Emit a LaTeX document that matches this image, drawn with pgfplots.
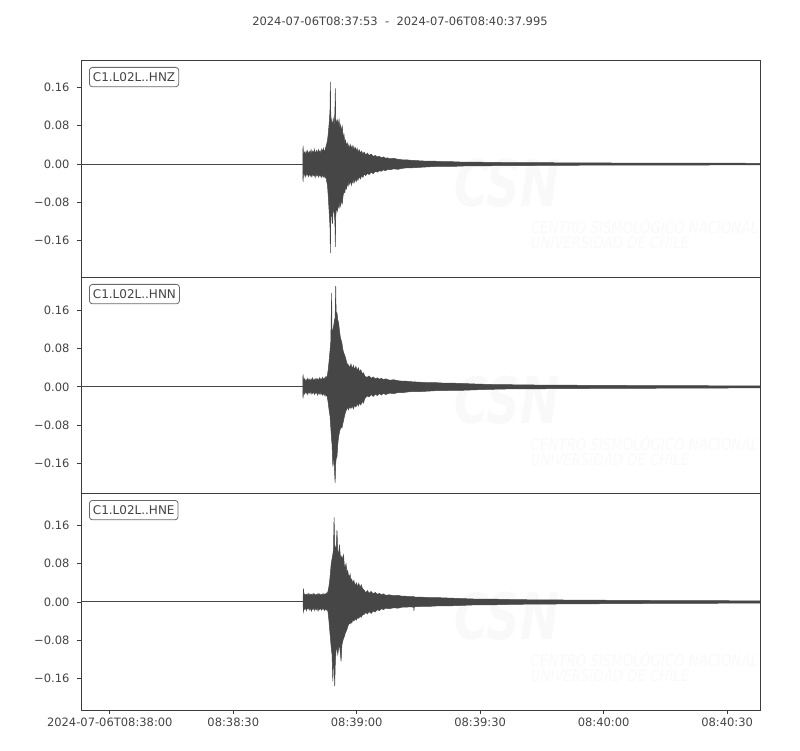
\documentclass[border=0pt]{standalone}
\usepackage{fontspec}
\setmainfont{DejaVu Sans}
\usepackage{pgfplots}
\usepackage{pgfplotstable}
\pgfplotsset{compat=1.18}
\usepgfplotslibrary{fillbetween}
\tikzset{fill between/on layer=main}
\definecolor{trace}{RGB}{70,70,70}
\definecolor{ink}{RGB}{68,68,68}
\definecolor{frame}{RGB}{60,60,60}
\definecolor{boxc}{RGB}{105,105,105}
\definecolor{wm}{RGB}{249,249,249}

% envelopes of the three traces, t in s after 08:37:53
\pgfplotstableread{
t up lo
53.90 0 0
53.95 0.038 -0.037
54.10 0.018 -0.016
54.30 0.025 -0.022
54.50 0.019 -0.027
54.70 0.027 -0.018
54.90 0.021 -0.024
55.10 0.028 -0.020
55.30 0.020 -0.026
55.50 0.026 -0.019
55.70 0.022 -0.025
55.90 0.030 -0.021
56.10 0.021 -0.027
56.30 0.027 -0.019
56.50 0.023 -0.024
56.70 0.031 -0.022
56.90 0.022 -0.028
57.10 0.026 -0.020
57.30 0.029 -0.025
57.50 0.021 -0.021
57.70 0.030 -0.027
57.90 0.024 -0.020
58.10 0.028 -0.026
58.30 0.022 -0.022
58.50 0.031 -0.028
58.70 0.025 -0.021
58.90 0.033 -0.027
59.10 0.024 -0.023
59.30 0.030 -0.029
59.50 0.036 -0.025
59.70 0.042 -0.036
59.90 0.050 -0.045
60.10 0.065 -0.070
60.30 0.085 -0.100
60.50 0.110 -0.130
60.60 0.172 -0.186
60.70 0.100 -0.115
60.90 0.090 -0.095
61.10 0.082 -0.125
61.30 0.095 -0.090
61.50 0.078 -0.100
61.70 0.110 -0.120
61.80 0.158 -0.173
61.90 0.095 -0.110
62.10 0.085 -0.090
62.30 0.092 -0.098
62.50 0.080 -0.085
62.70 0.093 -0.092
62.90 0.075 -0.080
63.10 0.082 -0.088
63.30 0.068 -0.075
63.50 0.078 -0.082
63.70 0.055 -0.065
63.90 0.062 -0.058
64.10 0.045 -0.060
64.30 0.050 -0.048
64.50 0.038 -0.052
64.70 0.044 -0.040
64.90 0.034 -0.046
65.10 0.041 -0.036
65.30 0.030 -0.042
65.50 0.040 -0.034
65.70 0.032 -0.044
65.90 0.038 -0.033
66.10 0.029 -0.040
66.30 0.037 -0.031
66.50 0.028 -0.038
66.70 0.034 -0.030
66.90 0.026 -0.036
67.10 0.033 -0.028
67.30 0.025 -0.034
67.60 0.030 -0.026
67.90 0.023 -0.031
68.20 0.027 -0.024
68.50 0.021 -0.028
68.80 0.025 -0.021
69.20 0.019 -0.024
69.60 0.023 -0.019
70.00 0.018 -0.022
70.50 0.021 -0.017
71.00 0.016 -0.020
71.50 0.018 -0.015
72.00 0.015 -0.017
72.50 0.016 -0.014
73.00 0.013 -0.015
73.50 0.015 -0.012
74.00 0.012 -0.014
74.50 0.013 -0.011
75.00 0.011 -0.012
76.00 0.012 -0.010
77.00 0.010 -0.011
78.00 0.009 -0.009
79.00 0.009 -0.008
80.00 0.008 -0.008
82.00 0.007 -0.007
84.00 0.006 -0.006
86.00 0.006 -0.005
88.00 0.005 -0.005
90.00 0.005 -0.005
93.00 0.004 -0.004
96.00 0.004 -0.004
100.0 0.0035 -0.0035
105.0 0.003 -0.003
110.0 0.003 -0.003
120.0 0.0025 -0.0025
130.0 0.0022 -0.0022
140.0 0.002 -0.002
150.0 0.002 -0.002
160.0 0.0018 -0.0018
164.995 0.0015 -0.0015
}\hnz

\pgfplotstableread{
t up lo
53.90 0 0
53.95 0.026 -0.024
54.10 0.012 -0.009
54.30 0.017 -0.015
54.50 0.011 -0.008
54.70 0.016 -0.014
54.90 0.012 -0.010
55.10 0.018 -0.016
55.30 0.013 -0.009
55.50 0.016 -0.013
55.70 0.011 -0.008
55.90 0.017 -0.015
56.10 0.013 -0.010
56.30 0.019 -0.014
56.50 0.012 -0.009
56.70 0.016 -0.016
56.90 0.013 -0.011
57.10 0.018 -0.014
57.30 0.014 -0.010
57.50 0.017 -0.017
57.70 0.012 -0.011
57.90 0.019 -0.015
58.10 0.014 -0.010
58.30 0.018 -0.016
58.50 0.013 -0.012
58.70 0.020 -0.017
58.90 0.015 -0.012
59.10 0.019 -0.018
59.30 0.016 -0.013
59.50 0.022 -0.019
59.70 0.018 -0.016
59.90 0.026 -0.024
60.10 0.038 -0.035
60.30 0.056 -0.050
60.50 0.075 -0.060
60.70 0.095 -0.085
60.90 0.196 -0.111
61.00 0.110 -0.120
61.20 0.120 -0.167
61.40 0.128 -0.140
61.60 0.140 -0.175
61.75 0.145 -0.201
61.90 0.211 -0.160
62.00 0.150 -0.150
62.20 0.155 -0.146
62.40 0.140 -0.120
62.60 0.134 -0.104
62.80 0.118 -0.095
63.00 0.105 -0.088
63.20 0.098 -0.083
63.40 0.092 -0.086
63.60 0.080 -0.078
63.80 0.072 -0.070
64.00 0.068 -0.062
64.20 0.063 -0.055
64.40 0.057 -0.050
64.60 0.050 -0.046
64.80 0.047 -0.043
65.00 0.046 -0.048
65.30 0.040 -0.041
65.60 0.048 -0.045
65.90 0.038 -0.040
66.20 0.045 -0.046
66.50 0.036 -0.038
66.80 0.043 -0.042
67.10 0.034 -0.035
67.40 0.040 -0.040
67.70 0.031 -0.033
68.00 0.036 -0.038
68.30 0.027 -0.030
68.60 0.030 -0.034
69.00 0.022 -0.024
69.50 0.020 -0.019
70.00 0.023 -0.021
70.50 0.018 -0.016
71.00 0.021 -0.020
71.50 0.017 -0.015
72.00 0.019 -0.018
72.50 0.016 -0.014
73.00 0.018 -0.017
73.50 0.015 -0.013
74.00 0.017 -0.016
75.00 0.014 -0.013
76.00 0.015 -0.014
77.00 0.013 -0.012
78.00 0.012 -0.012
79.00 0.012 -0.011
80.00 0.011 -0.010
82.00 0.010 -0.010
84.00 0.009 -0.009
86.00 0.009 -0.008
88.00 0.008 -0.008
90.00 0.008 -0.007
93.00 0.007 -0.007
96.00 0.006 -0.006
100.0 0.005 -0.005
105.0 0.0045 -0.004
110.0 0.004 -0.004
120.0 0.0035 -0.0035
130.0 0.003 -0.003
140.0 0.0028 -0.0028
150.0 0.0025 -0.0025
160.0 0.0022 -0.0022
164.995 0.002 -0.002
}\hnn

\pgfplotstableread{
t up lo
53.95 0 0
54.05 0.028 -0.020
54.20 0.014 -0.012
54.40 0.017 -0.016
54.60 0.013 -0.011
54.80 0.016 -0.018
55.00 0.014 -0.012
55.20 0.018 -0.015
55.40 0.013 -0.011
55.60 0.017 -0.017
55.80 0.014 -0.012
56.00 0.016 -0.019
56.20 0.013 -0.013
56.40 0.018 -0.016
56.60 0.014 -0.011
56.80 0.017 -0.018
57.00 0.013 -0.013
57.20 0.016 -0.016
57.40 0.014 -0.012
57.60 0.018 -0.019
57.80 0.013 -0.013
58.00 0.017 -0.016
58.20 0.014 -0.012
58.40 0.016 -0.017
58.60 0.013 -0.013
58.80 0.018 -0.016
59.00 0.014 -0.012
59.20 0.017 -0.018
59.40 0.015 -0.013
59.60 0.019 -0.017
59.80 0.016 -0.015
60.00 0.022 -0.020
60.20 0.030 -0.035
60.40 0.042 -0.055
60.60 0.060 -0.075
60.80 0.080 -0.095
61.00 0.090 -0.110
61.20 0.100 -0.166
61.35 0.110 -0.120
61.50 0.177 -0.130
61.65 0.120 -0.176
61.80 0.115 -0.125
62.00 0.110 -0.100
62.20 0.150 -0.096
62.40 0.105 -0.110
62.60 0.100 -0.096
62.80 0.120 -0.090
63.00 0.098 -0.105
63.20 0.092 -0.124
63.40 0.096 -0.090
63.60 0.087 -0.082
63.80 0.098 -0.076
64.00 0.075 -0.072
64.20 0.073 -0.066
64.40 0.080 -0.062
64.60 0.062 -0.058
64.80 0.066 -0.052
65.00 0.056 -0.048
65.20 0.052 -0.044
65.40 0.058 -0.046
65.60 0.044 -0.041
65.80 0.048 -0.044
66.00 0.039 -0.038
66.30 0.045 -0.040
66.60 0.034 -0.035
66.90 0.040 -0.038
67.20 0.032 -0.033
67.50 0.039 -0.034
67.80 0.030 -0.030
68.10 0.036 -0.032
68.40 0.028 -0.027
68.80 0.025 -0.026
69.20 0.019 -0.022
69.60 0.024 -0.025
70.00 0.018 -0.020
70.50 0.022 -0.024
71.00 0.017 -0.019
71.50 0.020 -0.021
72.00 0.016 -0.016
72.50 0.018 -0.018
73.00 0.015 -0.014
73.50 0.017 -0.016
74.00 0.014 -0.013
75.00 0.015 -0.014
76.00 0.013 -0.012
77.00 0.014 -0.013
78.00 0.012 -0.011
79.00 0.012 -0.011
80.00 0.011 -0.010
80.85 0.011 -0.011
80.90 0.011 -0.019
80.95 0.011 -0.011
81.20 0.010 -0.010
83.00 0.010 -0.009
85.00 0.009 -0.009
87.00 0.009 -0.008
90.00 0.008 -0.008
93.00 0.007 -0.007
96.00 0.006 -0.006
100.0 0.006 -0.006
105.0 0.005 -0.005
110.0 0.0045 -0.0045
120.0 0.004 -0.004
130.0 0.0035 -0.0035
140.0 0.003 -0.003
150.0 0.0028 -0.0028
160.0 0.0025 -0.0025
164.995 0.0022 -0.0022
}\hne

\pgfplotsset{
  seis/.style={
    scale only axis, width=679pt,
    anchor=south west,
    xmin=0, xmax=164.995,
    axis line style={frame, line width=0.9pt},
    tick style={frame, line width=0.9pt},
    tick align=outside, major tick length=4pt,
    ytick={-0.16,-0.08,0,0.08,0.16},
    yticklabels={−0.16,−0.08,0.00,0.08,0.16},
    ytick pos=left,
    yticklabel style={xshift=-4pt},
    every tick label/.append style={font=\fontsize{11.5}{13}\selectfont, text=ink},
  },
}

\newcommand{\trace}[2]{%
  \addplot[trace, line width=1pt] coordinates {(0,0) (164.995,0)};
  \addplot[name path=#1u, trace, line width=0.5pt] table[x=t, y=up] {#2};
  \addplot[name path=#1l, trace, line width=0.5pt] table[x=t, y=lo] {#2};
  \addplot[trace] fill between[of=#1u and #1l];
}

\newcommand{\stalabel}[1]{%
  \node[anchor=north west, draw=boxc, line width=0.8pt, rounded corners=3pt, fill=white,
        inner xsep=3.5pt, inner ysep=4.7pt, text height=9pt, text depth=1pt,
        text=ink, font=\fontsize{12}{13}\selectfont]
    at ([xshift=8pt, yshift=-7pt]rel axis cs:0,1) {#1};
}

% faint logo behind a panel whose top edge is at #1
\newcommand{\wmark}[1]{%
  \node[text=wm, font=\fontsize{64}{64}\selectfont\bfseries\itshape, xscale=0.73] at (507pt,#1-123pt) {CSN};
  \node[text=wm, anchor=west, font=\fontsize{16}{16}\selectfont\itshape, xscale=0.83] at (528pt,#1-166pt) {CENTRO SISMOLÓGICO NACIONAL};
  \node[text=wm, anchor=west, font=\fontsize{16}{16}\selectfont\itshape, xscale=0.83] at (528pt,#1-183pt) {UNIVERSIDAD DE CHILE};
}

\begin{document}
\begin{tikzpicture}
\wmark{690pt}
\wmark{473pt}
\wmark{257pt}

\begin{axis}[seis, at={(81pt,473pt)}, height=217pt,
  ymin=-0.236, ymax=0.2175, xtick=\empty]
\trace{z}{\hnz}
\stalabel{C1.L02L..HNZ}
\end{axis}

\begin{axis}[seis, at={(81pt,257pt)}, height=216pt,
  ymin=-0.222, ymax=0.230, xtick=\empty]
\trace{n}{\hnn}
\stalabel{C1.L02L..HNN}
\end{axis}

\begin{axis}[seis, at={(81pt,40pt)}, height=217pt,
  ymin=-0.226, ymax=0.228,
  xtick={7,37,67,97,127,157}, xtick pos=bottom,
  xticklabels={2024-07-06T08:38:00,08:38:30,08:39:00,08:39:30,08:40:00,08:40:30}]
\trace{e}{\hne}
\stalabel{C1.L02L..HNE}
\end{axis}

\node[text=ink, font=\fontsize{11.5}{13}\selectfont] at (400pt,729pt)
  {2024-07-06T08:37:53\hspace{0.64em}-\hspace{0.64em}2024-07-06T08:40:37.995};
\path (0,0) rectangle (800pt,750pt);
\end{tikzpicture}
\end{document}
